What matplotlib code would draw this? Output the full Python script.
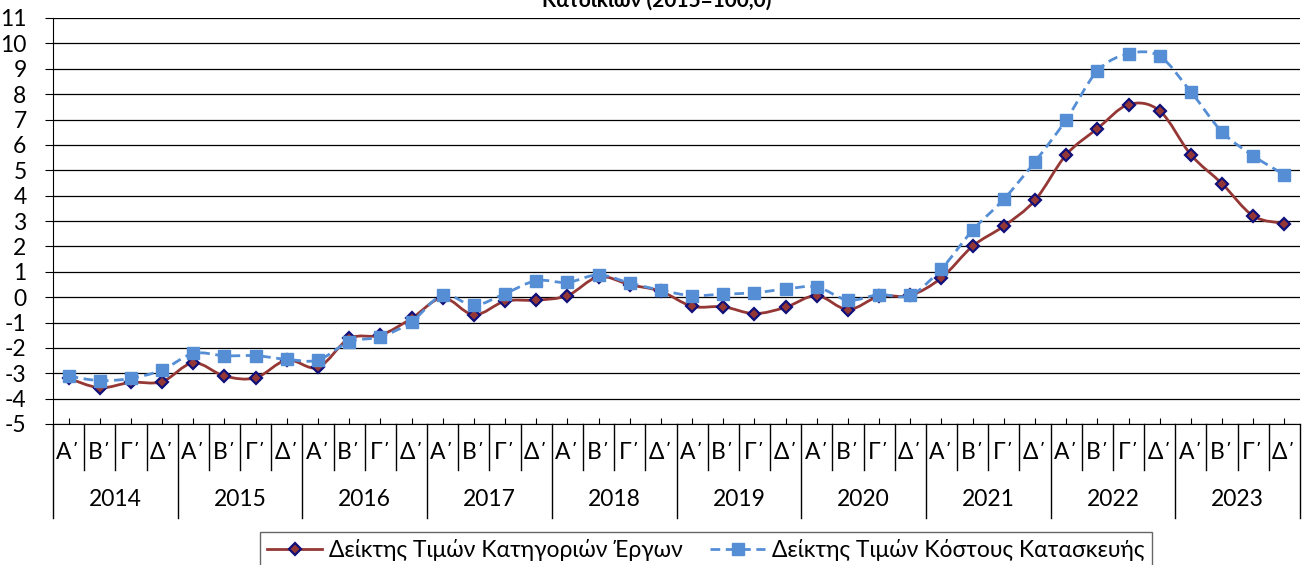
import numpy as np
import matplotlib
matplotlib.use('Agg')
import matplotlib.pyplot as plt
import matplotlib.transforms as mtransforms
from matplotlib.path import Path
from matplotlib.patches import PathPatch
from matplotlib.lines import Line2D

plt.rcParams['font.family'] = ['Lato', 'Noto Sans', 'DejaVu Sans']
plt.rcParams['axes.unicode_minus'] = False

years = ['2014', '2015', '2016', '2017', '2018', '2019', '2020', '2021', '2022', '2023']
quarters = ['Α΄', 'Β΄', 'Γ΄', 'Δ΄']

# Δείκτης Τιμών Κατηγοριών Έργων
works = [-3.2, -3.57, -3.36, -3.33,
         -2.59, -3.11, -3.18, -2.48,
         -2.77, -1.63, -1.50, -0.84,
         -0.03, -0.70, -0.16, -0.12,
         0.06, 0.80, 0.49, 0.23,
         -0.36, -0.38, -0.65, -0.40,
         0.06, -0.49, 0.03, 0.07,
         0.76, 2.01, 2.80, 3.82,
         5.61, 6.64, 7.59, 7.34,
         5.61, 4.47, 3.20, 2.90]

# Δείκτης Τιμών Κόστους Κατασκευής
cost = [-3.11, -3.29, -3.20, -2.87,
        -2.22, -2.31, -2.31, -2.45,
        -2.48, -1.76, -1.56, -0.97,
        0.08, -0.32, 0.14, 0.65,
        0.58, 0.88, 0.56, 0.27,
        0.06, 0.12, 0.17, 0.32,
        0.40, -0.12, 0.10, 0.07,
        1.12, 2.64, 3.86, 5.34,
        6.99, 8.91, 9.59, 9.49,
        8.09, 6.51, 5.57, 4.82]

label_works = 'Δείκτης Τιμών Κατηγοριών Έργων'
label_cost = 'Δείκτης Τιμών Κόστους Κατασκευής'
title = 'Κατοικιών (2015=100,0)'

red = '#953735'
navy = '#10107a'
blue = '#558ed5'
fs = 16.5


def smooth_path(xs, ys):
    # excel-like smoothed line, bezier segments through every point
    pts = np.column_stack([xs, ys])
    n = len(pts)
    verts = [pts[0]]
    codes = [Path.MOVETO]
    for i in range(n - 1):
        p0 = pts[i - 1] if i > 0 else pts[i]
        p1 = pts[i]
        p2 = pts[i + 1]
        p3 = pts[i + 2] if i + 2 < n else pts[i + 1]
        verts += [p1 + (p2 - p0) / 6, p2 - (p3 - p1) / 6, p2]
        codes += [Path.CURVE4] * 3
    return Path(verts, codes)


fig = plt.figure(figsize=(13.02, 5.65), dpi=100)
ax = fig.add_axes([53 / 1302, 1 - 424 / 565, 1247 / 1302, 406 / 565])

x = np.arange(len(works))

ax.add_patch(PathPatch(smooth_path(x, works), fill=False, edgecolor=red, lw=2, zorder=3))
ax.plot(x, works, ls='none', marker='D', ms=6, mfc=red, mec=navy, mew=1.6, zorder=4)

ax.add_patch(PathPatch(smooth_path(x, cost), fill=False, edgecolor=blue, lw=2,
                       linestyle=(0, (3.5, 2)), zorder=5))
ax.plot(x, cost, ls='none', marker='s', ms=8, mfc=blue, mec=blue, zorder=6)

ax.set_xlim(-0.5, len(works) - 0.5)
ax.set_ylim(-5, 11)
ax.set_yticks(np.arange(-5, 12, 1))
ax.yaxis.grid(True, color='black', lw=0.9)
ax.set_axisbelow(True)

for s in ['top', 'right']:
    ax.spines[s].set_visible(False)
ax.spines['left'].set_color('black')
ax.spines['bottom'].set_color('black')

ax.tick_params(axis='y', direction='out', length=6, labelsize=fs, pad=13)
ax.set_xticks(x)
ax.set_xticklabels([])
ax.tick_params(axis='x', direction='in', length=4)

# two level category axis below the plot
trans = mtransforms.blended_transform_factory(ax.transData, ax.transAxes)
for i in range(len(works) + 1):
    xb = i - 0.5
    low = -0.232 if i % 4 == 0 else -0.113
    ax.plot([xb, xb], [0, low], color='black', lw=1, transform=trans, clip_on=False)
for i in range(len(works)):
    ax.text(i, -0.071, quarters[i % 4], transform=trans, ha='center', va='center', fontsize=fs)
for j, yr in enumerate(years):
    ax.text(j * 4 + 1.5, -0.187, yr, transform=trans, ha='center', va='center', fontsize=fs)

fig.text(657 / 1302, 1 - 7 / 565, title, ha='center', va='baseline', fontsize=15, fontweight='bold')

handles = [
    Line2D([], [], color=red, lw=2, marker='D', ms=6, mfc=red, mec=navy, mew=1.6),
    Line2D([], [], color=blue, lw=2, ls=(0, (3.5, 2)), marker='s', ms=8, mfc=blue, mec=blue),
]
leg = fig.legend(handles, [label_works, label_cost], loc='upper center',
                 bbox_to_anchor=(706 / 1302, 1 - 532 / 565), ncol=2, fontsize=fs,
                 frameon=True, fancybox=False, edgecolor='#404040', handlelength=2.4,
                 handletextpad=0.3, columnspacing=1.2, borderpad=0.3, borderaxespad=0)
leg.get_frame().set_linewidth(1)

fig.savefig('out.png', dpi=100)
